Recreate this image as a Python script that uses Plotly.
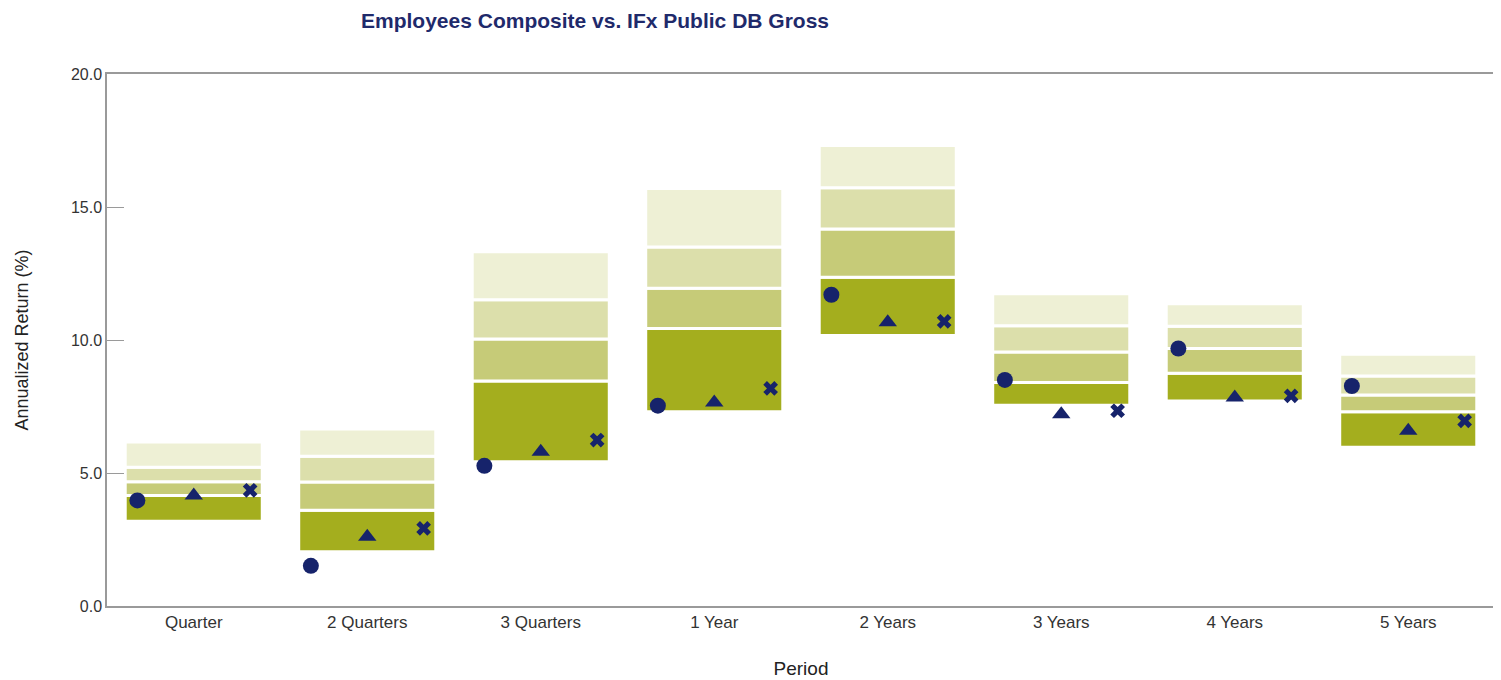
import plotly.graph_objects as go

# Períodos e faixas do universo (pontos de corte dos quartis, %)
periods = ["Quarter", "2 Quarters", "3 Quarters", "1 Year", "2 Years", "3 Years", "4 Years", "5 Years"]
pct_5 = [6.17, 6.65, 13.32, 15.70, 17.31, 11.74, 11.36, 9.46]
pct_25 = [5.22, 5.63, 11.51, 13.50, 15.72, 10.54, 10.52, 8.65]
median = [4.67, 4.66, 10.04, 11.95, 14.17, 9.55, 9.68, 7.93]
pct_75 = [4.15, 3.60, 8.46, 10.43, 12.36, 8.40, 8.75, 7.30]
pct_95 = [3.19, 2.04, 5.42, 7.30, 10.17, 7.55, 7.71, 5.97]

# Retornos das carteiras
composite = [3.97, 1.51, 5.27, 7.53, 11.70, 8.50, 9.68, 8.27]
series_b = [4.15, 2.60, 5.80, 7.65, 10.67, 7.21, 7.84, 6.59]
series_c = [4.35, 2.92, 6.24, 8.18, 10.70, 7.34, 7.90, 6.96]

NAVY = "#16236b"
BAND_COLORS = ["#a4ae1e", "#c6cb78", "#dcdfab", "#eef0d5"]
FONT = "Liberation Sans, Arial, sans-serif"

idx = list(range(len(periods)))
bounds = [pct_95, pct_75, median, pct_25, pct_5]

fig = go.Figure()

for k in range(4):
    lo, hi = bounds[k], bounds[k + 1]
    fig.add_trace(go.Bar(
        x=idx,
        base=lo,
        y=[h - l for h, l in zip(hi, lo)],
        width=0.79,
        marker=dict(color=BAND_COLORS[k], line=dict(color="white", width=3)),
        showlegend=False,
        hoverinfo="skip",
    ))

for vals, offset, symbol, size in [
    (composite, -0.325, "circle", 16),
    (series_b, 0.0, "triangle-up", 16),
    (series_c, 0.325, "x", 13),
]:
    fig.add_trace(go.Scatter(
        x=[i + offset for i in idx],
        y=vals,
        mode="markers",
        marker=dict(symbol=symbol, size=size, color=NAVY, line=dict(width=0)),
        showlegend=False,
    ))

fig.update_layout(
    width=1493,
    height=672,
    barmode="overlay",
    paper_bgcolor="white",
    plot_bgcolor="white",
    font=dict(family=FONT, color="#333333", size=16),
    margin=dict(l=99, r=4, t=66, b=69),
    title=dict(
        text="<b>Employees Composite vs. IFx Public DB Gross</b>",
        x=587 / 1493,
        xanchor="center",
        y=1 - 13 / 672,
        yanchor="middle",
        yref="container",
        font=dict(family=FONT, size=21, color="#1f2a6b"),
    ),
    xaxis=dict(
        range=[-0.5, 7.5],
        tickvals=idx,
        ticktext=periods,
        tickfont=dict(size=17),
        showgrid=False,
        zeroline=False,
        showline=True,
        linecolor="#9a9a9a",
        linewidth=2,
        mirror=True,
        ticks="",
        title=dict(text="Period", font=dict(size=19, color="#222222"), standoff=30),
    ),
    yaxis=dict(
        range=[0, 20],
        dtick=5,
        tickformat=".1f",
        showgrid=False,
        zeroline=False,
        showline=True,
        linecolor="#9a9a9a",
        linewidth=1.5,
        mirror=True,
        ticks="inside",
        ticklen=17,
        tickcolor="#9a9a9a",
        title=dict(text="Annualized Return (%)", font=dict(size=18, color="#222222"), standoff=38),
    ),
)

fig.write_html("out.html")
